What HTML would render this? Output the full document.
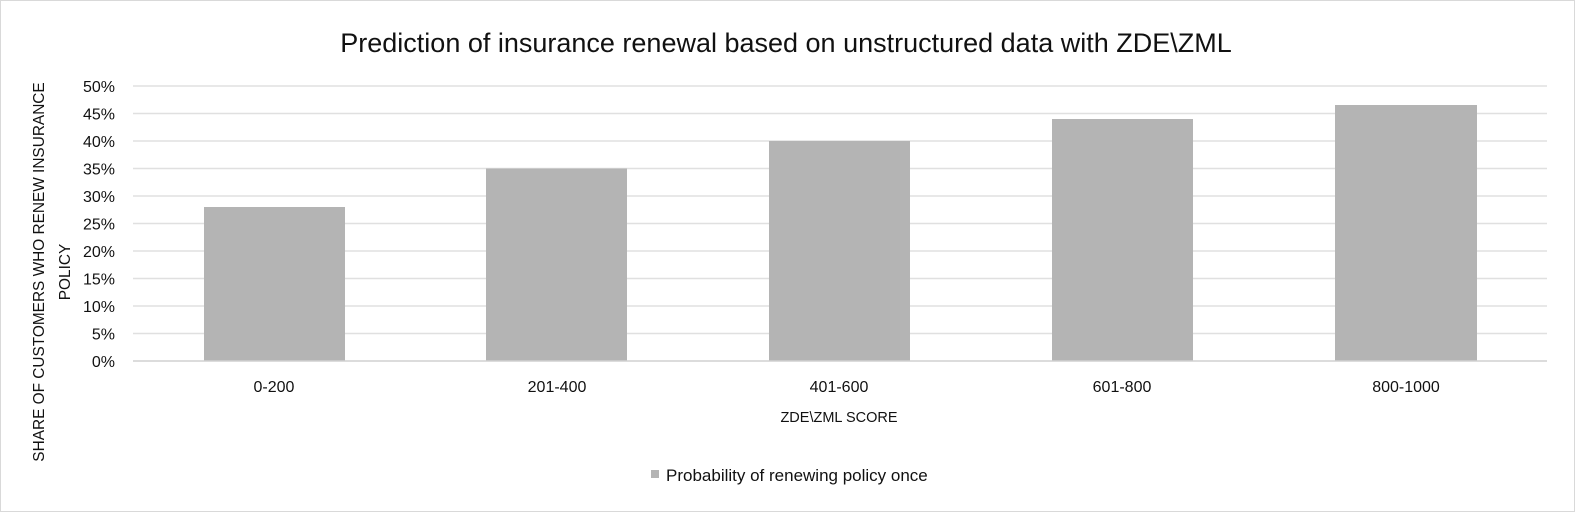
<!DOCTYPE html>
<html><head><meta charset="utf-8"><style>
html,body{margin:0;padding:0;background:#fff;}
svg{display:block;font-family:"Liberation Sans",Calibri,sans-serif;}
</style></head><body>
<svg width="1576" height="513" viewBox="0 0 1576 513" xmlns="http://www.w3.org/2000/svg">
<rect x="0.5" y="0.5" width="1574" height="511" fill="#fff" stroke="#d9d9d9"/>
<text x="786" y="52" font-size="27" text-anchor="middle" fill="#111">Prediction of insurance renewal based on unstructured data with ZDE\ZML</text>
<g stroke="#e0e0e0" stroke-width="1.5">
<line x1="133" x2="1547" y1="86" y2="86"/>
<line x1="133" x2="1547" y1="113.5" y2="113.5"/>
<line x1="133" x2="1547" y1="141" y2="141"/>
<line x1="133" x2="1547" y1="168.5" y2="168.5"/>
<line x1="133" x2="1547" y1="196" y2="196"/>
<line x1="133" x2="1547" y1="223.5" y2="223.5"/>
<line x1="133" x2="1547" y1="251" y2="251"/>
<line x1="133" x2="1547" y1="278.5" y2="278.5"/>
<line x1="133" x2="1547" y1="306" y2="306"/>
<line x1="133" x2="1547" y1="333.5" y2="333.5"/>
</g>
<g fill="#b4b4b4">
<rect x="204" y="207" width="141" height="154"/>
<rect x="486" y="168.5" width="141" height="192.5"/>
<rect x="769" y="141" width="141" height="220"/>
<rect x="1052" y="119" width="141" height="242"/>
<rect x="1335" y="105" width="142" height="256"/>
</g>
<line x1="133" x2="1547" y1="361" y2="361" stroke="#d0d0d0" stroke-width="1.5"/>
<g font-size="16" fill="#111" text-anchor="end">
<text x="115" y="92">50%</text><text x="115" y="119.5">45%</text><text x="115" y="147">40%</text>
<text x="115" y="174.5">35%</text><text x="115" y="202">30%</text><text x="115" y="229.5">25%</text>
<text x="115" y="257">20%</text><text x="115" y="284.5">15%</text><text x="115" y="312">10%</text>
<text x="115" y="339.5">5%</text><text x="115" y="367">0%</text>
</g>
<g font-size="16" fill="#111" text-anchor="middle">
<text x="274" y="392">0-200</text><text x="557" y="392">201-400</text><text x="839" y="392">401-600</text>
<text x="1122" y="392">601-800</text><text x="1406" y="392">800-1000</text>
</g>
<text x="839" y="422" font-size="14.5" fill="#111" text-anchor="middle">ZDE\ZML SCORE</text>
<g font-size="15.4" fill="#111" text-anchor="middle">
<text transform="translate(44,272) rotate(-90)">SHARE OF CUSTOMERS WHO RENEW INSURANCE</text>
<text transform="translate(70,272) rotate(-90)">POLICY</text>
</g>
<rect x="651" y="470" width="8" height="8" fill="#b4b4b4"/>
<text x="666" y="481" font-size="17" fill="#111">Probability of renewing policy once</text>
</svg>
</body></html>
